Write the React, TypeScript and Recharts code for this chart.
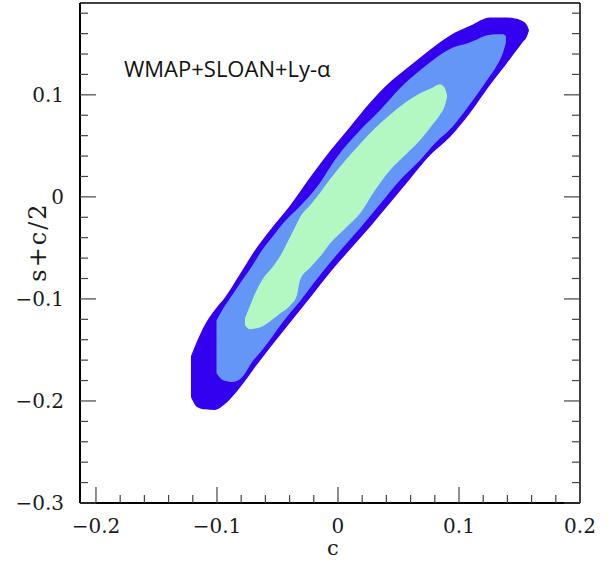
import { ComposedChart, Area, XAxis, YAxis } from 'recharts';

// axis ranges and ticks
const X_DOMAIN = [-0.2132, 0.2];
const Y_DOMAIN = [-0.3, 0.19];
const X_MAJOR = [-0.2, -0.1, 0, 0.1, 0.2];
const X_MINOR = [-0.18, -0.16, -0.14, -0.12, -0.08, -0.06, -0.04, -0.02, 0.02, 0.04, 0.06, 0.08, 0.12, 0.14, 0.16, 0.18];
const Y_MAJOR = [-0.3, -0.2, -0.1, 0, 0.1];
const Y_MINOR = [-0.28, -0.26, -0.24, -0.22, -0.18, -0.16, -0.14, -0.12, -0.08, -0.06, -0.04, -0.02, 0.02, 0.04, 0.06, 0.08, 0.12, 0.14, 0.16, 0.18];

// 95% contour (outer)
const OUTER_X = [-0.1215, -0.1165, -0.1099, -0.1017, -0.0934, -0.081, -0.0686, -0.0562, -0.0397, -0.0231, -0.0066, 0.0099, 0.0264, 0.043, 0.0595, 0.076, 0.0926, 0.1091, 0.1256, 0.138, 0.1463, 0.1521, 0.1562, 0.1579];
const OUTER_HIGH = [-0.1561, -0.1414, -0.125, -0.1105, -0.0986, -0.0756, -0.0523, -0.0327, -0.0086, 0.0189, 0.0449, 0.0685, 0.0922, 0.1125, 0.1285, 0.1443, 0.1582, 0.1676, 0.1759, 0.1759, 0.1749, 0.1725, 0.1681, 0.1632];
const OUTER_LOW = [-0.196, -0.2058, -0.2082, -0.2088, -0.2031, -0.1869, -0.1669, -0.1478, -0.1233, -0.0988, -0.074, -0.0516, -0.0295, -0.006, 0.0175, 0.0407, 0.0587, 0.0822, 0.1096, 0.1285, 0.1417, 0.1509, 0.1573, 0.1632];

// 68% contour (middle)
const MID_X = [-0.1004, -0.095, -0.0868, -0.0785, -0.0711, -0.0628, -0.0545, -0.0446, -0.0314, -0.0174, -0.0008, 0.0182, 0.0347, 0.0512, 0.0678, 0.0802, 0.095, 0.1066, 0.1157, 0.1231, 0.1314, 0.1364, 0.1388];
const MID_HIGH = [-0.1209, -0.1096, -0.0951, -0.0804, -0.068, -0.0523, -0.0396, -0.0249, -0.0092, 0.0097, 0.0391, 0.0652, 0.0848, 0.1064, 0.124, 0.1357, 0.1465, 0.1504, 0.1548, 0.1583, 0.1593, 0.1593, 0.1573];
const MID_LOW = [-0.1728, -0.1796, -0.1813, -0.1757, -0.162, -0.1502, -0.1372, -0.1212, -0.1023, -0.0805, -0.0565, -0.0308, -0.0072, 0.0163, 0.0358, 0.0525, 0.0691, 0.0868, 0.1015, 0.1142, 0.1289, 0.1416, 0.1514];

// inner contour
const CORE_X = [-0.0769, -0.0727, -0.0686, -0.062, -0.0545, -0.0479, -0.0397, -0.0339, -0.0314, -0.0231, -0.0149, -0.0066, 0.0058, 0.0182, 0.0306, 0.043, 0.0554, 0.0678, 0.0777, 0.0843, 0.0884, 0.0901];
const CORE_HIGH = [-0.1189, -0.1067, -0.0949, -0.0802, -0.0694, -0.0582, -0.0396, -0.0259, -0.02, -0.0082, 0.0039, 0.0172, 0.0354, 0.0519, 0.0672, 0.0804, 0.0922, 0.1015, 0.1068, 0.1103, 0.1064, 0.0995];
const CORE_LOW = [-0.1258, -0.1297, -0.129, -0.1267, -0.1204, -0.1143, -0.1067, -0.0964, -0.0817, -0.0694, -0.0587, -0.0457, -0.0312, -0.0164, 0.0065, 0.0261, 0.0407, 0.0554, 0.0701, 0.0804, 0.0897, 0.0976];

const toRows = (xs: number[], lows: number[], highs: number[]) =>
  xs.map((x, i) => ({ x, band: [lows[i], highs[i]] }));

const outerData = toRows(OUTER_X, OUTER_LOW, OUTER_HIGH);
const midData = toRows(MID_X, MID_LOW, MID_HIGH);
const coreData = toRows(CORE_X, CORE_LOW, CORE_HIGH);

const X_TICKS = [...X_MAJOR, ...X_MINOR].sort((a, b) => a - b);
const Y_TICKS = [...Y_MAJOR, ...Y_MINOR].sort((a, b) => a - b);

const serif = '"DejaVu Serif", serif';
const tickColor = '#444';
const MAJOR_LEN = 16;
const MINOR_LEN = 8;

const isMajor = (v: number, majors: number[]) => majors.some(m => Math.abs(m - v) < 1e-9);
const fmt = (v: number) => (Math.abs(v) < 1e-9 ? '0' : (v < 0 ? '\u2212' : '') + Math.abs(v).toFixed(1));

const BottomTick = (props: any) => {
  const { x, y, payload } = props;
  const major = isMajor(payload.value, X_MAJOR);
  return (
    <g>
      <line x1={x} x2={x} y1={y} y2={y - (major ? MAJOR_LEN : MINOR_LEN)} stroke={tickColor} strokeWidth={1.2} />
      {major && (
        <text x={x} y={y + 30} textAnchor="middle" fontFamily={serif} fontSize={20} fill="#1a1a1a">
          {fmt(payload.value)}
        </text>
      )}
    </g>
  );
};

const TopTick = (props: any) => {
  const { x, y, payload } = props;
  const major = isMajor(payload.value, X_MAJOR);
  return <line x1={x} x2={x} y1={y} y2={y + (major ? MAJOR_LEN : MINOR_LEN)} stroke={tickColor} strokeWidth={1.2} />;
};

const LeftTick = (props: any) => {
  const { x, y, payload } = props;
  const major = isMajor(payload.value, Y_MAJOR);
  return (
    <g>
      <line x1={x} x2={x + (major ? MAJOR_LEN : MINOR_LEN)} y1={y} y2={y} stroke={tickColor} strokeWidth={1.2} />
      {major && (
        <text x={x - 16} y={y + 7} textAnchor="end" fontFamily={serif} fontSize={20} fill="#1a1a1a">
          {fmt(payload.value)}
        </text>
      )}
    </g>
  );
};

const RightTick = (props: any) => {
  const { x, y, payload } = props;
  const major = isMajor(payload.value, Y_MAJOR);
  return <line x1={x} x2={x - (major ? MAJOR_LEN : MINOR_LEN)} y1={y} y2={y} stroke={tickColor} strokeWidth={1.2} />;
};

export default function App() {
  return (
    <div style={{ position: 'absolute', left: 0, top: 0, width: 613, height: 562, background: '#fff' }}>
      <ComposedChart width={613} height={562} margin={{ top: 2, right: 28, bottom: 19, left: 8 }}>
        <XAxis xAxisId="b" type="number" dataKey="x" domain={X_DOMAIN} allowDataOverflow ticks={X_TICKS} interval={0}
          tickSize={0} tickMargin={0} tickLine={false} height={40} axisLine={{ stroke: '#000', strokeWidth: 2 }} tick={BottomTick} />
        <XAxis xAxisId="t" orientation="top" type="number" domain={X_DOMAIN} allowDataOverflow ticks={X_TICKS} interval={0}
          tickSize={0} tickMargin={0} tickLine={false} height={1} axisLine={{ stroke: '#000', strokeWidth: 1.5 }} tick={TopTick} />
        <YAxis yAxisId="l" type="number" domain={Y_DOMAIN} allowDataOverflow ticks={Y_TICKS} interval={0}
          tickSize={0} tickMargin={0} tickLine={false} width={72} axisLine={{ stroke: '#000', strokeWidth: 2 }} tick={LeftTick} />
        <YAxis yAxisId="r" orientation="right" type="number" domain={Y_DOMAIN} allowDataOverflow ticks={Y_TICKS} interval={0}
          tickSize={0} tickMargin={0} tickLine={false} width={5} axisLine={{ stroke: '#000', strokeWidth: 1.5 }} tick={RightTick} />
        <Area xAxisId="b" yAxisId="l" data={outerData} dataKey="band" type="monotone" stroke="none"
          fill="#3300f0" fillOpacity={1} dot={false} activeDot={false} isAnimationActive={false} />
        <Area xAxisId="b" yAxisId="l" data={midData} dataKey="band" type="monotone" stroke="none"
          fill="#6396f6" fillOpacity={1} dot={false} activeDot={false} isAnimationActive={false} />
        <Area xAxisId="b" yAxisId="l" data={coreData} dataKey="band" type="monotone" stroke="none"
          fill="#b3f8c3" fillOpacity={1} dot={false} activeDot={false} isAnimationActive={false} />
      </ComposedChart>
      <svg width={613} height={562} style={{ position: 'absolute', left: 0, top: 0, pointerEvents: 'none' }}>
        <text x={124} y={77} fontFamily='"Open Sans", sans-serif' fontSize={22} fill="#111">WMAP+SLOAN+Ly-α</text>
        <text x={333} y={555} textAnchor="middle" fontFamily={serif} fontSize={21} fill="#1a1a1a">c</text>
        <text x={46} y={242} transform="rotate(-90, 46, 242)" textAnchor="middle" fontFamily={serif} fontSize={24}
          letterSpacing={2} fill="#1a1a1a">s+c/2</text>
      </svg>
    </div>
  );
}
